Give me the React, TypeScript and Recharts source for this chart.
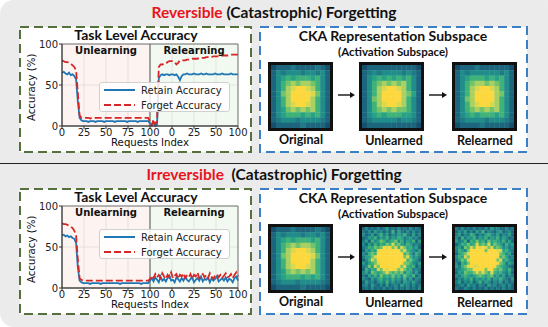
import React from "react";
import {
  LineChart,
  Line,
  XAxis,
  YAxis,
  CartesianGrid,
  ReferenceArea,
  ReferenceLine,
  Legend,
  ScatterChart,
  Scatter,
} from "recharts";

// request index on the shared x axis (unlearning 0-100, relearning 100-200)
const requestIdx = Array.from({ length: 101 }, (_, i) => i * 2);
const xTicks = [0, 25, 50, 75, 100, 125, 150, 175, 200];
const xTickLabels = ["0", "25", "50", "75", "100", "0", "25", "50", "100"];
const yTicks = [0, 50, 100];
const phases = ["Unlearning", "Relearning"];
const seriesNames = ["Retain Accuracy", "Forget Accuracy"];
const mapLabels = ["Original", "Unlearned", "Relearned"];

// reversible case
const retainRev = [
  65, 66, 64, 63, 65, 62, 63, 61, 57, 30,
  10, 7, 6, 6, 6, 5, 6, 6, 6, 5,
  6, 6, 6, 6, 5, 6, 6, 6, 6, 6,
  5, 6, 6, 6, 6, 6, 6, 5, 6, 6,
  6, 6, 6, 5, 6, 6, 6, 6, 6, 6,
  3, 1, 4, 0, 2, 58, 62, 63, 62, 63,
  63, 62, 63, 63, 62, 63, 60, 56, 61, 63,
  63, 64, 63, 63, 63, 64, 63, 63, 63, 64,
  63, 63, 64, 63, 63, 63, 63, 64, 63, 63,
  63, 64, 63, 63, 63, 63, 64, 63, 63, 63,
  63,
];
const forgetRev = [
  80, 79, 78, 78, 77, 76, 74, 72, 68, 40,
  13, 10, 10, 10, 10, 10, 9, 10, 10, 10,
  10, 10, 10, 10, 10, 10, 10, 10, 10, 10,
  10, 10, 10, 10, 10, 10, 10, 10, 10, 10,
  10, 10, 10, 10, 10, 10, 10, 10, 10, 10,
  5, 1, 8, 2, 6, 72, 75, 75, 76, 76,
  78, 79, 79, 79, 78, 75, 77, 80, 80, 80,
  80, 81, 81, 81, 82, 82, 82, 82, 83, 83,
  83, 83, 84, 84, 84, 84, 85, 85, 85, 85,
  85, 86, 86, 86, 86, 86, 87, 87, 87, 87,
  87,
];

// irreversible case
const retainIrr = [
  64, 65, 63, 64, 62, 63, 61, 60, 55, 25,
  9, 7, 6, 6, 6, 6, 5, 6, 6, 6,
  6, 6, 5, 6, 6, 6, 6, 6, 6, 6,
  6, 6, 6, 5, 6, 6, 6, 6, 6, 6,
  6, 6, 6, 6, 6, 5, 6, 6, 6, 6,
  9, 12, 8, 13, 10, 7, 14, 9, 11, 8,
  12, 15, 9, 10, 7, 13, 11, 8, 12, 9,
  14, 10, 8, 11, 13, 7, 10, 12, 9, 14,
  8, 11, 10, 13, 7, 12, 9, 11, 14, 8,
  10, 12, 9, 13, 8, 11, 10, 7, 12, 14,
  9,
];
const forgetIrr = [
  79, 78, 78, 77, 76, 75, 73, 70, 64, 35,
  12, 10, 9, 9, 9, 9, 9, 9, 9, 9,
  9, 9, 9, 9, 9, 9, 9, 9, 9, 9,
  9, 9, 9, 9, 9, 9, 9, 9, 9, 9,
  9, 9, 9, 9, 9, 9, 9, 9, 9, 9,
  11, 15, 12, 17, 13, 16, 12, 18, 14, 11,
  16, 13, 19, 12, 15, 17, 11, 16, 14, 18,
  12, 15, 13, 17, 11, 16, 14, 19, 12, 15,
  17, 13, 16, 12, 18, 14, 11, 15, 17, 13,
  16, 12, 15, 18, 13, 14, 17, 12, 16, 19,
  14,
];

// CKA maps, one digit per cell (0 = dark teal ... 9 = yellow)
const origMap = [
  "011121111210", "132333233231", "134545554531", "135676776531",
  "135789987531", "136799998631", "135799997531", "135789987531",
  "134676767531", "134555454531", "123332333321", "011111211110",
];
const unlearnedRevMap = [
  "011111111110", "123233332321", "134545454531", "135676767531",
  "135789987531", "135799997641", "136799997531", "135789987531",
  "135676766531", "134545554431", "123333323321", "011111111110",
];
const relearnedRevMap = [
  "011121111110", "132333333231", "134555454531", "135677676531",
  "135789987531", "135799997631", "136799997531", "135789987531",
  "135676767531", "134545554531", "123333233321", "011112111110",
];
const unlearnedIrrMap = [
  "13121 31241 21312 13121", "21314 23131 51421 31312",
  "31241 35241 32435 21413", "12435 24352 43542 34231",
  "24153 46534 56352 43514", "31425 35465 85643 54232",
  "23546 56989 68586 45341", "14354 89999 99968 54324",
  "32565 99999 99995 64253", "24468 99999 99996 85342",
  "13586 99999 99999 56431", "42456 89999 99996 65324",
  "23648 69999 99968 54513", "15354 86989 98686 45232",
  "34265 45686 56563 54241", "21435 36454 64536 43513",
  "32142 45343 53425 24132", "14231 34252 42314 32421",
  "23142 13141 23142 31312", "12131 21312 13121 31213",
];
const relearnedIrrMap = [
  "21312 13121 31423 11312", "13241 31425 13213 41231",
  "24132 54132 45324 13241", "31524 35243 52435 24312",
  "42351 54645 36454 35241", "13546 45856 58465 42534",
  "34265 86989 86856 53423", "25436 99999 69998 84532",
  "14568 99999 99999 65341", "35486 99999 99999 56423",
  "24658 99999 99996 84532", "31546 99999 99999 65243",
  "42568 98899 99996 54321", "23456 69999 69965 64352",
  "14365 56868 65854 53241", "32454 34565 45634 24132",
  "13243 52434 35243 53214", "24132 41352 43132 41312",
  "12314 23132 14231 23131", "21132 13121 31212 13121",
];

const cmap = [
  "#164f6e", "#1c657c", "#1f7a86", "#208d8a", "#27a286",
  "#3fb27a", "#72c36a", "#a8d062", "#dcd84e", "#fdd83d",
];

const BLUE = "#1f77b4";
const RED = "#d62728";
const MONO = "DejaVu Sans";
const SANS = "Lato, 'Open Sans', sans-serif";

function Txt({ x, y, size, children, color = "#111", weight = 700, family = SANS, rotate = 0 }: any) {
  return (
    <div
      style={{
        position: "absolute",
        left: x - 200,
        top: y - size * 0.62,
        width: 400,
        textAlign: "center",
        fontSize: size,
        lineHeight: `${size * 1.24}px`,
        fontWeight: weight,
        fontFamily: family,
        color,
        whiteSpace: "nowrap",
        transform: rotate ? `rotate(${rotate}deg)` : undefined,
      }}
    >
      {children}
    </div>
  );
}

function LegendBox() {
  return (
    <div
      style={{
        width: 131,
        height: 30,
        background: "rgba(255,255,255,0.85)",
        border: "1px solid #d0d0d0",
        borderRadius: 3,
        boxSizing: "border-box",
      }}
    >
      <svg width={131} height={30} style={{ display: "block", marginTop: -1, marginLeft: -1 }}>
        <line x1={5} x2={36} y1={8} y2={8} stroke={BLUE} strokeWidth={2} />
        <line x1={5} x2={36} y1={23} y2={23} stroke={RED} strokeWidth={2} strokeDasharray="7 3" />
        <text x={42} y={11.5} fontSize={10} fontFamily={MONO} fill="#222">{seriesNames[0]}</text>
        <text x={42} y={26.5} fontSize={10} fontFamily={MONO} fill="#222">{seriesNames[1]}</text>
      </svg>
    </div>
  );
}

function AccChart({ retain, forget, legendTop }: any) {
  const rows = requestIdx.map((x, i) => ({ x, retain: retain[i], forget: forget[i] }));
  const tickStyle = { fontSize: 10, fill: "#222", fontFamily: MONO };
  const phaseLabel = (v: string) => ({
    value: v,
    position: "insideTop" as const,
    offset: 3,
    fontSize: 10,
    fontWeight: 700,
    fill: "#111",
    fontFamily: MONO,
  });
  return (
    <LineChart width={232} height={126} data={rows} margin={{ top: 18, right: 14, bottom: 0, left: 0 }}>
      <ReferenceArea x1={0} x2={100} y1={0} y2={100} fill="#f4b5a8" fillOpacity={0.16} stroke="none" label={phaseLabel(phases[0])} />
      <ReferenceArea x1={100} x2={200} y1={0} y2={100} fill="#b5e0b0" fillOpacity={0.18} stroke="none" label={phaseLabel(phases[1])} />
      <CartesianGrid stroke="#e0e0e0" strokeWidth={0.7} />
      <XAxis
        type="number"
        dataKey="x"
        domain={[0, 200]}
        ticks={xTicks}
        interval={0}
        tickFormatter={(v: number) => xTickLabels[xTicks.indexOf(v)]}
        height={26}
        tick={tickStyle}
        tickSize={3}
        tickMargin={0}
        axisLine={{ stroke: "#333" }}
        tickLine={{ stroke: "#333" }}
      />
      <YAxis
        type="number"
        domain={[0, 100]}
        ticks={yTicks}
        width={42}
        tick={tickStyle}
        tickSize={3}
        tickMargin={1}
        axisLine={{ stroke: "#333" }}
        tickLine={{ stroke: "#333" }}
      />
      <ReferenceArea x1={0} x2={200} y1={0} y2={100} fill="none" stroke="#555" strokeWidth={0.8} />
      <ReferenceLine x={100} stroke="#555" strokeWidth={1} />
      <Line type="linear" dataKey="retain" stroke={BLUE} strokeWidth={1.8} dot={false} isAnimationActive={false} />
      <Line type="linear" dataKey="forget" stroke={RED} strokeWidth={1.8} strokeDasharray="7 3" dot={false} isAnimationActive={false} />
      <Legend
        layout="vertical"
        align="center"
        verticalAlign="middle"
        content={() => <LegendBox />}
        wrapperStyle={{ left: 79, top: legendTop, width: 131, height: 30 }}
      />
    </LineChart>
  );
}

function Heatmap({ rows, w, h }: any) {
  const grid: string[] = rows.map((r: string) => r.replace(/ /g, ""));
  const n = grid.length;
  const cells = grid.flatMap((r, i) =>
    r.split("").map((d, j) => ({ col: j + 0.5, row: i + 0.5, v: Number(d) }))
  );
  const cw = w / n;
  const ch = h / n;
  return (
    <ScatterChart width={w} height={h} margin={{ top: 0, right: 0, bottom: 0, left: 0 }}>
      <XAxis type="number" dataKey="col" domain={[0, n]} hide />
      <YAxis type="number" dataKey="row" domain={[0, n]} reversed hide />
      <Scatter
        data={cells}
        isAnimationActive={false}
        shape={(p: any) => (
          <rect
            x={p.cx - cw / 2}
            y={p.cy - ch / 2}
            width={cw + 0.4}
            height={ch + 0.4}
            fill={cmap[p.payload.v]}
          />
        )}
      />
    </ScatterChart>
  );
}

function MapBox({ x, y, rows }: any) {
  return (
    <div
      style={{
        position: "absolute",
        left: x,
        top: y,
        width: 65,
        height: 69,
        border: "3px solid #111",
        boxSizing: "border-box",
        background: "#fff",
      }}
    >
      <Heatmap rows={rows} w={59} h={63} />
    </div>
  );
}

function Arrow({ x1, x2, y }: any) {
  return (
    <svg style={{ position: "absolute", left: x1, top: y - 4 }} width={x2 - x1 + 1} height={8}>
      <line x1={0} x2={x2 - x1 - 4} y1={4} y2={4} stroke="#111" strokeWidth={1.4} />
      <polygon points={`${x2 - x1 - 5},1 ${x2 - x1},4 ${x2 - x1 - 5},7`} fill="#111" />
    </svg>
  );
}

function Row({ top, red, gap, retain, forget, legendTop, maps }: any) {
  return (
    <div style={{ position: "absolute", left: 0, top, width: 548, height: 162 }}>
      <Txt x={274} y={13} size={15.5}>
        <span style={{ color: "#e8141c" }}>{red}</span>
        {gap}(Catastrophic) Forgetting
      </Txt>
      <svg style={{ position: "absolute", left: 0, top: 0 }} width={548} height={162}>
        <rect x={20} y={27} width={231} height={125} fill="#fff" stroke="#55703a" strokeWidth={2} strokeDasharray="9 5" />
        <rect x={260} y={27} width={267} height={125} fill="#fff" stroke="#3b7fc6" strokeWidth={2} strokeDasharray="9 5" />
      </svg>
      <div style={{ position: "absolute", left: 20, top: 26 }}>
        <AccChart retain={retain} forget={forget} legendTop={legendTop} />
      </div>
      <Txt x={136} y={35} size={14}>Task Level Accuracy</Txt>
      <Txt x={150} y={143} size={10.2} weight={400} family={MONO}>Requests Index</Txt>
      <Txt x={32} y={87} size={10.2} weight={400} family={MONO} rotate={-90}>Accuracy (%)</Txt>
      <Txt x={393} y={36} size={14}>CKA Representation Subspace</Txt>
      <Txt x={393} y={52} size={11.5}>(Activation Subspace)</Txt>
      <MapBox x={268} y={62} rows={maps[0]} />
      <MapBox x={359} y={62} rows={maps[1]} />
      <MapBox x={452} y={62} rows={maps[2]} />
      <Arrow x1={338} x2={355} y={95} />
      <Arrow x1={429} x2={447} y={95} />
      <Txt x={301} y={140} size={12.5}>{mapLabels[0]}</Txt>
      <Txt x={394} y={141} size={12.5}>{mapLabels[1]}</Txt>
      <Txt x={485} y={141} size={12.5}>{mapLabels[2]}</Txt>
    </div>
  );
}

export default function App() {
  return (
    <div style={{ position: "relative", width: 548, height: 327, overflow: "hidden", background: "#fff" }}>
      <style>{"body{margin:0}"}</style>
      <div style={{ position: "absolute", left: 0, top: 0, width: 560, height: 327, background: "#ebebeb", borderRadius: 14 }} />
      <div style={{ position: "absolute", left: 0, top: 162.5, width: 548, height: 1.5, background: "#222" }} />
      <Row
        top={0}
        red="Reversible"
        gap=" "
        retain={retainRev}
        forget={forgetRev}
        legendTop={56}
        maps={[origMap, unlearnedRevMap, relearnedRevMap]}
      />
      <Row
        top={162}
        red="Irreversible"
        gap={"\u00a0 "}
        retain={retainIrr}
        forget={forgetIrr}
        legendTop={41}
        maps={[origMap, unlearnedIrrMap, relearnedIrrMap]}
      />
    </div>
  );
}
